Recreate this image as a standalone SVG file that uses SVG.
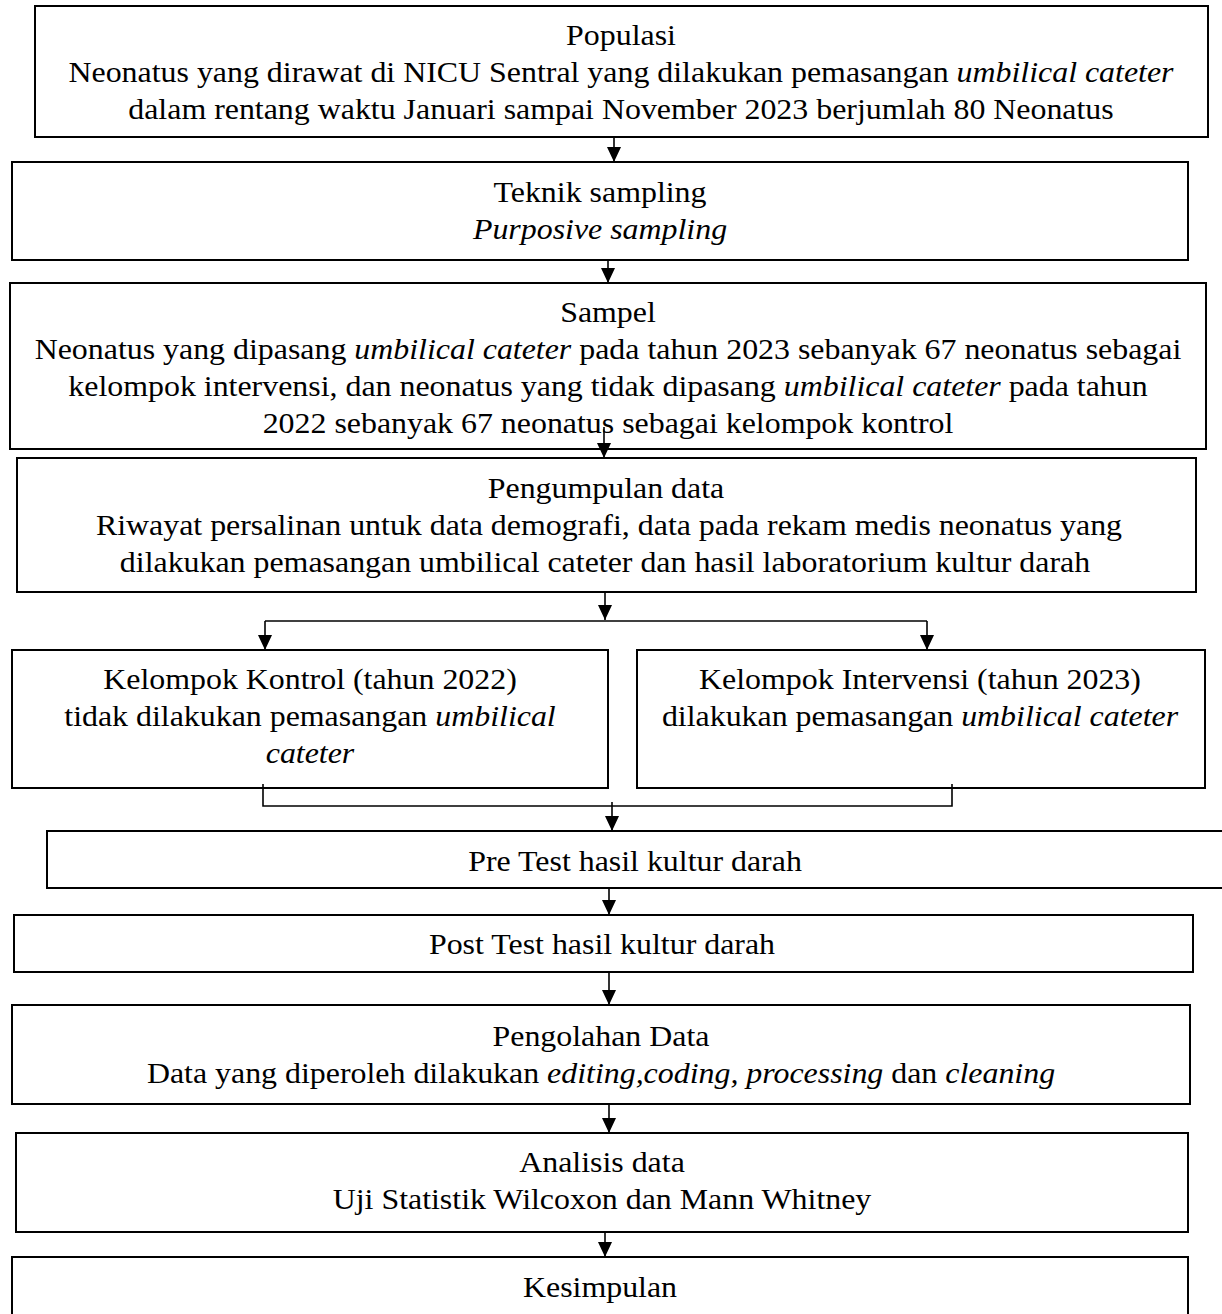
<svg xmlns="http://www.w3.org/2000/svg" width="1222" height="1314" viewBox="0 0 1222 1314">
<style>
.bg { fill: #ffffff; }
.box { fill: #ffffff; stroke: #000000; stroke-width: 2; }
.t { font-family: "Liberation Serif", "Times New Roman", serif; font-size: 29px; fill: #000000; text-anchor: middle; }
.i { font-style: italic; }
.c { stroke: #000000; stroke-width: 1.6; fill: none; }
</style>
<defs>
<marker id="ah" markerUnits="userSpaceOnUse" viewBox="0 0 15 14" markerWidth="15" markerHeight="14" refX="15" refY="7" orient="auto">
<path d="M0,0 L15,7 L0,14 z" fill="#000000"/>
</marker>
</defs>
<rect class="bg" x="0" y="0" width="1222" height="1314"/>

<g id="populasi">
<rect class="box" x="35" y="6" width="1173" height="131"/>
<text class="t" transform="translate(621 45) scale(1.1 1)">Populasi</text>
<text class="t" transform="translate(621 82) scale(1.1 1)">Neonatus yang dirawat di NICU Sentral yang dilakukan pemasangan <tspan class="i">umbilical cateter</tspan></text>
<text class="t" transform="translate(621 119) scale(1.1 1)">dalam rentang waktu Januari sampai November 2023 berjumlah 80 Neonatus</text>
</g>

<g id="teknik">
<rect class="box" x="12" y="162" width="1176" height="98"/>
<text class="t" transform="translate(600 202) scale(1.1 1)">Teknik sampling</text>
<text class="t" transform="translate(600 239) scale(1.1 1)"><tspan class="i">Purposive sampling</tspan></text>
</g>

<g id="sampel">
<rect class="box" x="10" y="283" width="1196" height="166"/>
<text class="t" transform="translate(608 322) scale(1.1 1)">Sampel</text>
<text class="t" transform="translate(608 359) scale(1.1 1)">Neonatus yang dipasang <tspan class="i">umbilical cateter</tspan> pada tahun 2023 sebanyak 67 neonatus sebagai</text>
<text class="t" transform="translate(608 396) scale(1.1 1)">kelompok intervensi, dan neonatus yang tidak dipasang <tspan class="i">umbilical cateter</tspan> pada tahun</text>
<text class="t" transform="translate(608 433) scale(1.1 1)">2022 sebanyak 67 neonatus sebagai kelompok kontrol</text>
</g>

<g id="pengumpulan">
<rect class="box" x="17" y="458" width="1179" height="134"/>
<text class="t" transform="translate(606 498) scale(1.1 1)">Pengumpulan data</text>
<text class="t" transform="translate(609 535) scale(1.1 1)">Riwayat persalinan untuk data demografi, data pada rekam medis neonatus yang</text>
<text class="t" transform="translate(605 572) scale(1.1 1)">dilakukan pemasangan umbilical cateter dan hasil laboratorium kultur darah</text>
</g>

<g id="kontrol">
<rect class="box" x="12" y="650" width="596" height="138"/>
<text class="t" transform="translate(310 689) scale(1.1 1)">Kelompok Kontrol (tahun 2022)</text>
<text class="t" transform="translate(310 726) scale(1.1 1)">tidak dilakukan pemasangan <tspan class="i">umbilical</tspan></text>
<text class="t" transform="translate(310 763) scale(1.1 1)"><tspan class="i">cateter</tspan></text>
</g>

<g id="intervensi">
<rect class="box" x="637" y="650" width="568" height="138"/>
<text class="t" transform="translate(920 689) scale(1.1 1)">Kelompok Intervensi (tahun 2023)</text>
<text class="t" transform="translate(920 726) scale(1.1 1)">dilakukan pemasangan <tspan class="i">umbilical cateter</tspan></text>
</g>

<g id="pretest">
<rect class="box" x="47" y="831" width="1200" height="57"/>
<text class="t" transform="translate(635 871) scale(1.1 1)">Pre Test hasil kultur darah</text>
</g>

<g id="posttest">
<rect class="box" x="14" y="915" width="1179" height="57"/>
<text class="t" transform="translate(602 954) scale(1.1 1)">Post Test hasil kultur darah</text>
</g>

<g id="pengolahan">
<rect class="box" x="12" y="1005" width="1178" height="99"/>
<text class="t" transform="translate(601 1046) scale(1.1 1)">Pengolahan Data</text>
<text class="t" transform="translate(601 1083) scale(1.1 1)">Data yang diperoleh dilakukan <tspan class="i">editing,coding, processing</tspan> dan <tspan class="i">cleaning</tspan></text>
</g>

<g id="analisis">
<rect class="box" x="16" y="1133" width="1172" height="99"/>
<text class="t" transform="translate(602 1172) scale(1.1 1)">Analisis data</text>
<text class="t" transform="translate(602 1209) scale(1.1 1)">Uji Statistik Wilcoxon dan Mann Whitney</text>
</g>

<g id="kesimpulan">
<rect class="box" x="12" y="1257" width="1176" height="80"/>
<text class="t" transform="translate(600 1297) scale(1.1 1)">Kesimpulan</text>
</g>

<g id="connectors">
<line class="c" x1="614" y1="137" x2="614" y2="162" marker-end="url(#ah)"/>
<line class="c" x1="608" y1="260" x2="608" y2="283" marker-end="url(#ah)"/>
<line class="c" x1="604" y1="427" x2="604" y2="458" marker-end="url(#ah)"/>
<line class="c" x1="605" y1="592" x2="605" y2="620" marker-end="url(#ah)"/>
<line class="c" x1="265" y1="621" x2="927" y2="621"/>
<line class="c" x1="265" y1="621" x2="265" y2="650" marker-end="url(#ah)"/>
<line class="c" x1="927" y1="621" x2="927" y2="650" marker-end="url(#ah)"/>
<path class="c" d="M263,784 V806 H952 V784"/>
<line class="c" x1="612" y1="802" x2="612" y2="831" marker-end="url(#ah)"/>
<line class="c" x1="609" y1="888" x2="609" y2="915" marker-end="url(#ah)"/>
<line class="c" x1="609" y1="972" x2="609" y2="1005" marker-end="url(#ah)"/>
<line class="c" x1="609" y1="1104" x2="609" y2="1133" marker-end="url(#ah)"/>
<line class="c" x1="605" y1="1232" x2="605" y2="1257" marker-end="url(#ah)"/>
</g>
</svg>
